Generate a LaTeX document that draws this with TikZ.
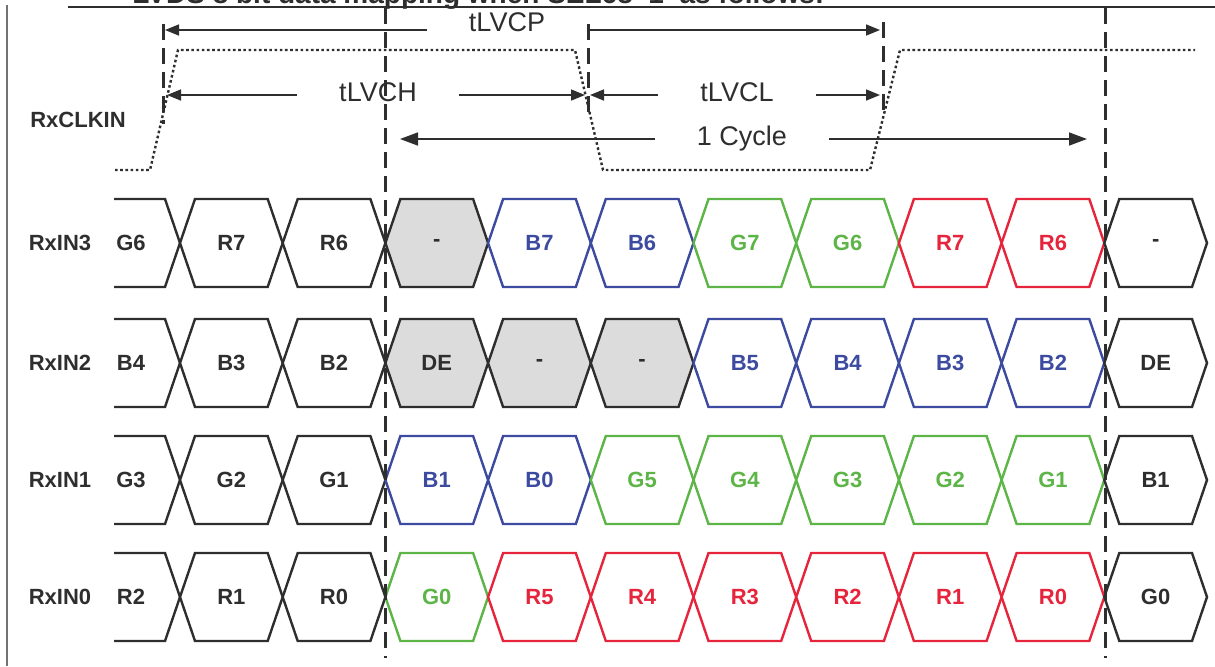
\documentclass[tikz,border=0pt]{standalone}
\usepackage{fontspec}
\setmainfont{Liberation Sans}
\usetikzlibrary{arrows.meta}

\definecolor{lvblack}{HTML}{2E2E2E}
\definecolor{lvblue}{HTML}{3C4BA0}
\definecolor{lvgreen}{HTML}{5DB447}
\definecolor{lvred}{HTML}{E6253C}
\definecolor{lvgray}{HTML}{DCDCDC}

\begin{document}
\begin{tikzpicture}[x=0.5pt, y=-0.5pt,
  every node/.style={font=\fontsize{11}{13}\selectfont\bfseries, inner sep=1pt, text=lvblack},
  tlabel/.style={font=\fontsize{13.5}{15}\selectfont, inner xsep=21pt},
  dimarrow/.style={-{Triangle[length=7pt,width=5.5pt]}, line width=0.8pt, lvblack},
  bigarrow/.style={-{Triangle[length=9pt,width=6.5pt]}, line width=0.8pt, lvblack},
  marker/.style={line width=1.5pt, lvblack, dash pattern=on 8pt off 4pt},
  clkline/.style={line width=1.2pt, lvblack, dash pattern=on 1.3pt off 1.3pt},
  hexline/.style={line width=1.2pt}]
  \useasboundingbox (0,0) rectangle (1215,666);
  \draw[line width=1.2pt, lvblack] (68,7) -- (1215,7);
  \draw[line width=1pt, black!55] (7,5) -- (7,666);
  \node[anchor=base west, inner sep=0pt, font=\fontsize{14}{16}\selectfont\bfseries] (title) at (132,3) {LVDS 8 bit data mapping when SEL68 `1' as follows:};

  % clock and timing
  \node (clkin) at (78,120) {RxCLKIN};
  \draw[clkline] (115,170) -- (150,170) -- (178,50) -- (575,50) -- (603,170) -- (870,170) -- (900,50) -- (1195,50);
  \coordinate (cpL) at (165,30);
  \coordinate (cpR) at (880,30);
  \coordinate (chL) at (167,95);
  \coordinate (chR) at (585,95);
  \coordinate (clL) at (590,95);
  \coordinate (clR) at (880,95);
  \coordinate (cyL) at (400,139);
  \coordinate (cyR) at (1087,139);
  \node[tlabel] (tlvcp) at (507,22) {tLVCP};
  \node[tlabel] (tlvch) at (378,92) {tLVCH};
  \node[tlabel] (tlvcl) at (737,92) {tLVCL};
  \node[tlabel] (cycle) at (742,139) {1 Cycle};
  \draw[dimarrow] (tlvcp.west |- cpL) -- (cpL);
  \draw[dimarrow] (tlvcp.east |- cpR) -- (cpR);
  \draw[dimarrow] (tlvch.west |- chL) -- (chL);
  \draw[dimarrow] (tlvch.east |- chR) -- (chR);
  \draw[dimarrow] (tlvcl.west |- clL) -- (clL);
  \draw[dimarrow] (tlvcl.east |- clR) -- (clR);
  \draw[bigarrow] (cycle.west) -- (cyL);
  \draw[bigarrow] (cycle.east) -- (cyR);

  % RxIN3
  \node (rx3) at (60,243) {RxIN3};
  \draw[hexline, lvblack] (114,199) -- (165,199) -- (180,243) -- (165,287) -- (114,287);
  \node (in3-0) at (131,243) {G6};
  \foreach \i/\v/\c/\f in {1/R7/lvblack/white,2/R6/lvblack/white,3/-/lvblack/lvgray,4/B7/lvblue/white,5/B6/lvblue/white,6/G7/lvgreen/white,7/G6/lvgreen/white,8/R7/lvred/white,9/R6/lvred/white,10/-/lvblack/white} {
    \draw[hexline, draw=\c, fill=\f] (77.3+\i*102.7,243) -- ++(15,-44) -- ++(72.7,0) -- ++(15,44) -- ++(-15,44) -- ++(-72.7,0) -- cycle;
    \node[text=\c] (in3-\i) at (128.65+\i*102.7,243) {\v};
  }

  % RxIN2
  \node (rx2) at (60,363) {RxIN2};
  \draw[hexline, lvblack] (114,319) -- (165,319) -- (180,363) -- (165,407) -- (114,407);
  \node (in2-0) at (131,363) {B4};
  \foreach \i/\v/\c/\f in {1/B3/lvblack/white,2/B2/lvblack/white,3/DE/lvblack/lvgray,4/-/lvblack/lvgray,5/-/lvblack/lvgray,6/B5/lvblue/white,7/B4/lvblue/white,8/B3/lvblue/white,9/B2/lvblue/white,10/DE/lvblack/white} {
    \draw[hexline, draw=\c, fill=\f] (77.3+\i*102.7,363) -- ++(15,-44) -- ++(72.7,0) -- ++(15,44) -- ++(-15,44) -- ++(-72.7,0) -- cycle;
    \node[text=\c] (in2-\i) at (128.65+\i*102.7,363) {\v};
  }

  % RxIN1
  \node (rx1) at (60,480) {RxIN1};
  \draw[hexline, lvblack] (114,436) -- (165,436) -- (180,480) -- (165,524) -- (114,524);
  \node (in1-0) at (131,480) {G3};
  \foreach \i/\v/\c/\f in {1/G2/lvblack/white,2/G1/lvblack/white,3/B1/lvblue/white,4/B0/lvblue/white,5/G5/lvgreen/white,6/G4/lvgreen/white,7/G3/lvgreen/white,8/G2/lvgreen/white,9/G1/lvgreen/white,10/B1/lvblack/white} {
    \draw[hexline, draw=\c, fill=\f] (77.3+\i*102.7,480) -- ++(15,-44) -- ++(72.7,0) -- ++(15,44) -- ++(-15,44) -- ++(-72.7,0) -- cycle;
    \node[text=\c] (in1-\i) at (128.65+\i*102.7,480) {\v};
  }

  % RxIN0
  \node (rx0) at (60,597) {RxIN0};
  \draw[hexline, lvblack] (114,553) -- (165,553) -- (180,597) -- (165,641) -- (114,641);
  \node (in0-0) at (131,597) {R2};
  \foreach \i/\v/\c/\f in {1/R1/lvblack/white,2/R0/lvblack/white,3/G0/lvgreen/white,4/R5/lvred/white,5/R4/lvred/white,6/R3/lvred/white,7/R2/lvred/white,8/R1/lvred/white,9/R0/lvred/white,10/G0/lvblack/white} {
    \draw[hexline, draw=\c, fill=\f] (77.3+\i*102.7,597) -- ++(15,-44) -- ++(72.7,0) -- ++(15,44) -- ++(-15,44) -- ++(-72.7,0) -- cycle;
    \node[text=\c] (in0-\i) at (128.65+\i*102.7,597) {\v};
  }

  % guide lines
  \draw[marker] (385,8) -- (385,658);
  \draw[marker] (1105,8) -- (1105,658);
  \draw[marker] (163,24) -- (163,124);
  \draw[marker] (588,24) -- (588,114);
  \draw[marker] (883,22) -- (883,112);
\end{tikzpicture}
\end{document}
